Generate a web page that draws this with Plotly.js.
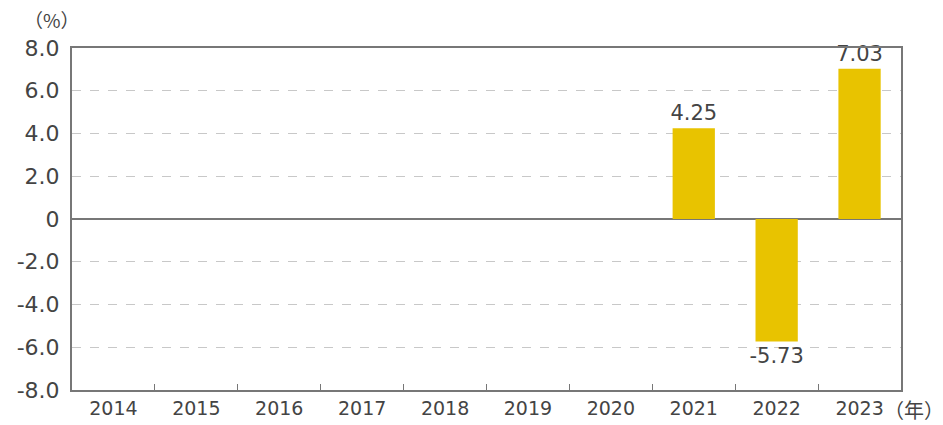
<!DOCTYPE html>
<html>
<head>
<meta charset="utf-8">
<script src="https://cdn.plot.ly/plotly-3.0.1.min.js"></script>
<style>html,body{margin:0;padding:0;background:#fff;}#chart{width:943px;height:425px;}</style>
</head>
<body>
<div id="chart"></div>
<script>
const years = ['2014','2015','2016','2017','2018','2019','2020','2021','2022','2023'];
const values = [null,null,null,null,null,null,null,4.25,-5.73,7.03];
const valueLabels = ['','','','','','','','4.25','-5.73','7.03'];
const yTickVals = [-8,-6,-4,-2,0,2,4,6,8];
const yTickText = ['-8.0','-6.0','-4.0','-2.0','0','2.0','4.0','6.0','8.0'];

const fontFam = 'DejaVu Sans, Roboto, sans-serif';
const textColor = '#444';

const trace = {
  type: 'bar',
  x: years,
  y: values,
  text: valueLabels,
  textposition: 'outside',
  constraintext: 'none',
  cliponaxis: false,
  textfont: {family: fontFam, size: 21, color: textColor},
  marker: {color: '#E8C300'},
  hoverinfo: 'none'
};

const L = 72, R = 42, T = 48, B = 35;
const W = 943, H = 425;
const pw = W - L - R, ph = H - T - B;

const layout = {
  width: W, height: H,
  margin: {l: L, r: R, t: T, b: B, pad: 0},
  paper_bgcolor: '#fff',
  plot_bgcolor: '#fff',
  showlegend: false,
  bargap: 0.49,
  font: {family: fontFam, size: 19, color: textColor},
  xaxis: {
    type: 'category',
    tickson: 'boundaries',
    ticks: 'inside',
    ticklen: 6,
    tickcolor: '#777',
    tickwidth: 1,
    showgrid: false,
    showline: true,
    linecolor: '#777',
    linewidth: 2,
    mirror: true,
    tickfont: {family: fontFam, size: 19, color: textColor},
    fixedrange: true
  },
  yaxis: {
    range: [-8, 8],
    tickvals: yTickVals,
    ticktext: yTickText,
    showgrid: true,
    gridcolor: '#c8c8c8',
    griddash: 'dash',
    gridwidth: 1,
    zeroline: true,
    zerolinecolor: '#777',
    zerolinewidth: 1.5,
    showline: true,
    linecolor: '#777',
    linewidth: 2,
    mirror: true,
    ticks: '',
    ticklabelstandoff: 6,
    tickfont: {family: fontFam, size: 22, color: textColor},
    fixedrange: true
  },
  annotations: [
    {text: '（%）', xref: 'paper', yref: 'paper', x: (52 - L) / pw, y: 1 + (T - 19) / ph,
     showarrow: false, xanchor: 'center', yanchor: 'middle',
     font: {family: 'Noto Sans CJK JP', size: 19, color: textColor}},
    {text: '（年）', xref: 'paper', yref: 'paper', x: (914 - L) / pw, y: -(409 - T - ph) / ph,
     showarrow: false, xanchor: 'center', yanchor: 'middle',
     font: {family: 'Noto Sans CJK JP', size: 20, color: textColor}}
  ]
};

Plotly.newPlot('chart', [trace], layout, {displayModeBar: false, staticPlot: true});
</script>
</body>
</html>
